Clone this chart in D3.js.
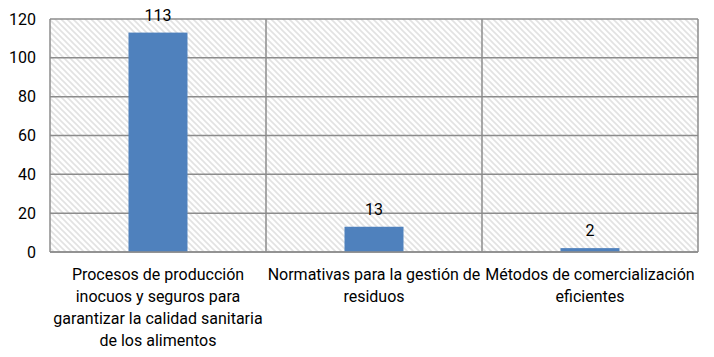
<!DOCTYPE html>
<html><head><meta charset="utf-8">
<script src="https://cdn.jsdelivr.net/npm/d3@7"></script>
<style>body{margin:0;background:#fff}svg{display:block}</style>
</head><body>
<script>
const categories = [
  "Procesos de producción inocuos y seguros para garantizar la calidad sanitaria de los alimentos",
  "Normativas para la gestión de residuos",
  "Métodos de comercialización eficientes"
];
const labelLines = [
  ["Procesos de producción", "inocuos y seguros para", "garantizar la calidad sanitaria", "de los alimentos"],
  ["Normativas para la gestión de", "residuos"],
  ["Métodos de comercialización", "eficientes"]
];
const values = [113, 13, 2];
const yTicks = [0, 20, 40, 60, 80, 100, 120];

const W = 714, H = 357;
const m = {left: 50, right: 16, top: 19, bottom: 105};
const svg = d3.select("body").append("svg").attr("width", W).attr("height", H);
const defs = svg.append("defs");
const pat = defs.append("pattern").attr("id","hatch").attr("patternUnits","userSpaceOnUse")
  .attr("width",6).attr("height",6);
pat.append("rect").attr("width",6).attr("height",6).attr("fill","#fff");
pat.append("path").attr("d","M-1,-1 L7,7 M-1,5 L1,7 M5,-1 L7,1").attr("stroke","#e2e2e2").attr("stroke-width",1.6);

const x = d3.scaleBand().domain(categories).range([m.left, W - m.right]).paddingInner(0).paddingOuter(0);
const y = d3.scaleLinear().domain([0,120]).range([H - m.bottom, m.top]);

const font = "Roboto, 'DejaVu Sans', sans-serif";

svg.append("rect").attr("x", m.left).attr("y", m.top)
  .attr("width", W - m.right - m.left).attr("height", y(0) - m.top).attr("fill","url(#hatch)");

// horizontal gridlines
svg.append("g").selectAll("line").data(yTicks).join("line")
  .attr("x1", m.left).attr("x2", W - m.right)
  .attr("y1", d => y(d)).attr("y2", d => y(d))
  .attr("stroke","#8c8c8c").attr("stroke-width",1.5);
// vertical separators
const seps = categories.map(c => x(c)).concat([x(categories[2]) + x.bandwidth()]);
svg.append("g").selectAll("line").data(seps).join("line")
  .attr("x1", d => d).attr("x2", d => d)
  .attr("y1", m.top).attr("y2", y(0))
  .attr("stroke","#8c8c8c").attr("stroke-width",1.5);

// y tick labels
svg.append("g").selectAll("text").data(yTicks).join("text")
  .attr("x", 36).attr("y", d => y(d)).attr("dy","0.35em")
  .attr("text-anchor","end").attr("font-family",font).attr("font-size",16).attr("fill","#000")
  .text(d => d);

// bars
const bw = 59;
svg.append("g").selectAll("rect").data(values).join("rect")
  .attr("x", (d,i) => x(categories[i]) + x.bandwidth()/2 - bw/2)
  .attr("width", bw)
  .attr("y", d => y(d)).attr("height", d => y(0) - y(d))
  .attr("fill","#4f81bd");

// re-draw baseline over bars
svg.append("line").attr("x1", m.left).attr("x2", W - m.right).attr("y1", y(0)).attr("y2", y(0))
  .attr("stroke","#8c8c8c").attr("stroke-width",1.5);

// value labels
svg.append("g").selectAll("text").data(values).join("text")
  .attr("x", (d,i) => x(categories[i]) + x.bandwidth()/2)
  .attr("y", d => y(d) - 12)
  .attr("text-anchor","middle").attr("font-family",font).attr("font-size",16).attr("fill","#000")
  .text(d => d);

// category labels
const cl = svg.append("g").selectAll("text").data(categories).join("text")
  .attr("text-anchor","middle").attr("font-family",font).attr("font-size",16).attr("fill","#000");
cl.each(function(c,i){
  const t = d3.select(this);
  labelLines[i].forEach((ln,j) => {
    t.append("tspan").attr("x", x(c) + x.bandwidth()/2).attr("y", 280 + j*22).text(ln);
  });
});
</script>
</body></html>
